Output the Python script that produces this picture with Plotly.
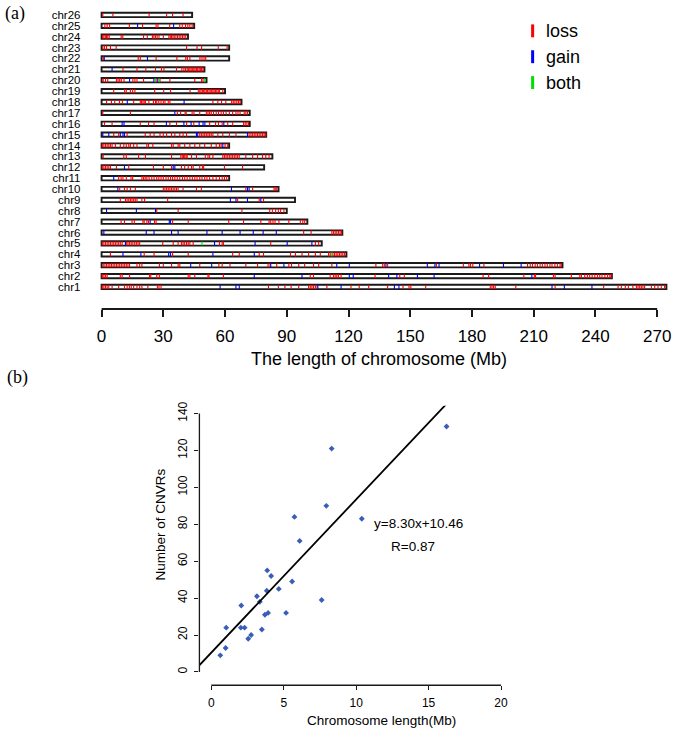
import plotly.graph_objects as go

W, H = 675, 729

# ---------------- Panel (a) data ----------------
CHROMS = [f"chr{i}" for i in range(1, 27)]
LENGTHS_MB = [274.5, 248.0, 224.0, 119.0, 107.0, 117.0, 100.0, 90.0, 94.0, 86.0,
              62.0, 79.0, 83.0, 62.0, 80.0, 72.0, 72.0, 68.0, 60.0, 51.0,
              50.0, 62.0, 62.0, 42.0, 45.0, 44.0]
X_TICKS_A = [0, 30, 60, 90, 120, 150, 180, 210, 240, 270]

LOSS = {
    "chr1": [0.3, 1.1, 1.9, 2.7, 3.5, 5.1, 8.3, 11.1, 12.4, 13.5, 14.4, 15.6, 17.2, 18.5, 19.6, 22.5,
             27.1, 27.9, 28.9, 81.1, 85.9, 89.1, 92.1, 95.8, 100.6, 101.4, 102.2, 103.0, 103.9, 104.7,
             109.5, 121.2, 125.2, 129.8, 139.0, 146.5, 149.4, 150.3, 157.5, 188.9, 189.7, 190.5, 191.3,
             201.3, 220.4, 244.0, 251.0, 252.6, 254.5, 256.0, 258.2, 259.9, 260.7, 261.5, 262.3, 263.1,
             263.9, 267.2, 268.8, 270.4, 272.0, 273.6],
    "chr2": [0.3, 1.1, 1.9, 2.7, 9.1, 10.0, 13.6, 23.3, 23.9, 26.8, 28.1, 42.1, 42.9, 45.3, 51.7, 52.2,
             59.2, 101.4, 103.0, 111.1, 112.7, 113.5, 114.3, 115.1, 116.4, 132.9, 144.9, 147.1, 185.4,
             188.1, 205.2, 210.3, 210.9, 219.6, 220.4, 228.3, 232.4, 233.2, 234.8, 236.1, 237.2, 238.4,
             239.7, 241.0, 242.1, 243.2, 244.6, 245.9, 247.0, 247.6],
    "chr3": [0.8, 1.6, 2.4, 3.2, 4.0, 4.8, 5.6, 6.4, 7.2, 8.0, 8.8, 9.6, 10.4, 11.2, 12.0, 12.8, 13.6,
             17.2, 18.5, 19.6, 28.1, 30.0, 34.0, 37.2, 38.0, 47.7, 57.0, 58.6, 62.4, 70.1, 75.8, 80.9,
             81.9, 85.1, 91.0, 92.3, 95.8, 98.7, 103.0, 105.5, 111.9, 133.3, 136.6, 137.4, 139.0, 162.7,
             175.8, 178.5, 179.3, 180.4, 185.8, 207.0, 208.3, 209.4, 210.7, 211.8, 213.1, 214.2, 215.5,
             216.6, 217.9, 218.9, 220.3, 221.5, 222.8, 223.4],
    "chr4": [4.3, 20.7, 25.5, 34.5, 42.1, 63.7, 66.9, 76.6, 78.7, 91.8, 94.2, 97.4, 100.6, 103.9, 106.3,
             110.3, 111.1, 112.4, 113.2, 114.0, 114.8, 115.6, 116.4, 117.2, 118.0],
    "chr5": [0.3, 1.1, 1.9, 2.7, 3.5, 4.3, 5.1, 5.9, 6.7, 7.5, 8.3, 9.1, 10.0, 12.0, 12.8, 13.6, 14.4,
             15.2, 16.1, 16.9, 17.7, 18.5, 29.7, 34.8, 37.2, 38.8, 39.6, 40.4, 41.3, 42.1, 42.9, 44.5,
             57.3, 58.6, 59.2, 82.2, 103.9, 105.5],
    "chr6": [98.2, 101.8, 111.9, 112.7, 113.5, 114.3, 115.1, 115.9, 116.6],
    "chr7": [9.5, 11.1, 14.8, 15.9, 20.1, 20.7, 22.0, 22.8, 25.7, 26.5, 34.5, 42.1, 61.8, 69.0, 77.4,
             81.4, 82.2, 83.3, 84.3, 86.2, 91.0, 96.6, 97.8, 98.7],
    "chr8": [26.8, 37.2, 68.2, 81.7, 83.0, 84.6, 85.9, 87.0, 88.6],
    "chr9": [9.1, 11.6, 12.4, 13.2, 14.0, 14.8, 15.6, 16.4, 17.2, 19.6, 20.9, 32.1, 66.1, 76.6, 78.7],
    "chr10": [8.8, 11.1, 12.4, 14.0, 16.4, 30.0, 30.8, 31.6, 32.4, 33.2, 34.0, 34.8, 35.6, 36.4, 37.2,
              39.6, 46.1, 48.5, 70.1, 73.4, 83.8, 84.4, 85.1],
    "chr11": [8.3, 9.5, 10.4, 12.0, 14.3, 15.1, 19.6, 20.4, 21.2, 22.0, 23.1, 24.4, 25.5, 26.8, 27.8,
              28.9, 30.0, 31.3, 32.4, 33.5, 34.5, 35.6, 36.8, 38.0, 39.3, 40.4, 41.6, 42.9, 44.1, 45.3,
              46.4, 47.7, 48.8, 50.1, 51.2, 52.5, 54.1, 55.7, 57.3, 58.6, 59.7, 60.8],
    "chr12": [0.3, 1.1, 1.9, 2.7, 3.5, 4.3, 7.2, 13.2, 25.2, 30.0, 34.0, 38.8, 40.4, 42.1, 43.7, 44.5,
              47.7, 49.0, 49.6, 59.7, 68.5],
    "chr13": [0.8, 10.8, 12.0, 18.0, 21.3, 34.0, 38.5, 39.2, 39.8, 40.4, 41.1, 41.6, 43.7, 46.1, 50.4,
              51.7, 52.5, 54.1, 58.9, 59.7, 60.5, 61.3, 62.1, 62.9, 63.7, 64.5, 65.3, 66.1, 66.9, 70.1,
              73.4, 75.8, 78.2, 79.8, 81.4],
    "chr14": [0.3, 1.1, 1.9, 2.7, 3.5, 4.3, 5.1, 6.7, 9.1, 10.8, 12.0, 13.2, 14.0, 15.6, 17.2, 22.0,
              22.8, 24.9, 34.0, 34.8, 37.2, 38.0, 40.4, 42.9, 45.3, 47.7, 50.1, 53.3, 55.7, 57.3, 58.1,
              60.0, 61.3],
    "chr15": [5.9, 8.3, 12.4, 21.2, 23.6, 25.5, 28.4, 30.0, 31.6, 34.0, 35.6, 38.0, 39.6, 41.3, 47.7,
              48.5, 49.3, 50.1, 50.9, 51.7, 52.5, 53.3, 54.1, 56.5, 58.9, 62.1, 65.3, 71.7, 72.6, 73.4,
              74.2, 75.0, 75.8, 76.6, 77.4, 78.2, 79.0, 79.8],
    "chr16": [1.4, 5.1, 18.8, 22.8, 25.5, 33.2, 36.4, 41.3, 44.8, 52.5, 55.4, 56.8, 58.6, 61.3, 63.7,
              69.0, 69.8, 70.6, 71.4],
    "chr17": [0.6, 14.0, 36.8, 38.4, 40.6, 41.1, 44.0, 44.9, 47.7, 50.9, 51.7, 52.5, 53.3, 54.4, 55.7,
              56.8, 58.1, 59.2, 60.5, 62.1, 63.7, 65.3, 66.3, 67.3, 69.3, 70.1, 70.9],
    "chr18": [2.4, 4.8, 6.4, 8.7, 10.1, 15.6, 18.8, 19.4, 20.1, 20.7, 21.3, 23.0, 25.2, 26.2, 26.8, 27.8,
              28.9, 30.0, 30.8, 32.4, 33.2, 54.1, 56.5, 58.3, 60.4, 63.2, 64.0, 64.8, 65.7, 66.5, 67.3],
    "chr19": [5.9, 11.2, 12.0, 14.0, 15.1, 16.2, 25.8, 30.2, 33.5, 43.0, 47.0, 47.7, 48.3, 49.0, 49.6,
              50.2, 50.9, 51.5, 52.2, 52.8, 53.5, 54.1, 54.7, 55.4, 56.0, 56.7, 57.3, 58.9],
    "chr20": [0.8, 1.9, 3.0, 7.2, 8.0, 8.8, 9.6, 10.9, 15.2, 16.2, 17.2, 20.4, 26.5, 28.4, 33.2, 45.3,
              48.6, 49.3],
    "chr21": [10.4, 17.2, 21.5, 26.2, 29.1, 30.3, 36.4, 39.0, 40.0, 40.8, 41.6, 42.2, 42.9, 43.5, 44.1,
              44.8, 45.4, 46.1, 46.7, 47.4, 48.0, 48.6, 49.3],
    "chr22": [0.8, 17.8, 18.8, 26.5, 36.6, 40.9, 41.7, 42.9, 47.8, 48.8, 49.8, 50.6],
    "chr23": [0.6, 1.4, 2.4, 4.3, 7.1, 41.3, 46.4, 48.6, 56.7, 61.0],
    "chr24": [0.5, 1.1, 1.8, 2.4, 3.0, 3.7, 9.5, 10.3, 20.4, 22.2, 24.7, 25.4, 26.2, 27.0, 27.9, 30.0,
              32.7, 33.4, 34.0, 34.7, 35.3, 36.1, 36.9, 37.7, 38.5, 39.3, 40.1, 40.9],
    "chr25": [1.6, 2.7, 3.9, 13.5, 19.9, 26.5, 27.4, 33.1, 38.0, 39.2, 40.8, 41.9, 42.9, 44.0],
    "chr26": [0.6, 5.5, 23.1, 31.6, 34.5, 39.6],
}
GAIN = {
    "chr1": [57.6, 65.3, 66.9, 105.1, 116.4, 142.3, 144.5, 218.9, 224.9, 238.3],
    "chr2": [74.2, 97.4, 120.4, 122.3, 139.5, 143.5, 153.5, 161.6, 209.1],
    "chr3": [43.3, 53.5, 82.2, 88.6, 114.3, 120.4, 138.2, 158.3, 162.0, 164.0, 183.7, 195.3, 203.9],
    "chr4": [10.4, 19.1, 32.6, 33.5, 54.1, 74.2],
    "chr5": [11.6, 54.9, 74.6, 90.2, 102.2],
    "chr6": [1.1, 21.7, 25.5, 34.0, 37.2, 51.2, 58.6, 67.3, 73.7, 78.5, 84.9],
    "chr7": [23.6, 32.9, 33.5],
    "chr8": [2.4, 16.9, 26.2],
    "chr9": [62.6, 65.3, 70.9, 77.4],
    "chr10": [7.9, 63.1, 70.9, 71.7],
    "chr11": [5.9],
    "chr12": [11.1, 34.8, 35.6],
    "chr14": [58.9],
    "chr15": [0.6, 3.5, 9.1, 10.4, 11.1, 46.1, 46.7, 70.9],
    "chr16": [10.0, 10.9, 31.5, 40.0, 43.5, 47.4, 49.3, 50.2, 59.4],
    "chr17": [35.6],
    "chr18": [12.5, 40.1],
    "chr20": [13.6, 25.4, 27.3],
    "chr21": [5.1],
    "chr22": [1.3, 22.3],
    "chr25": [17.5, 35.0],
}
BOTH = {
    "chr4": [111.9],
    "chr5": [48.8],
    "chr20": [26.0, 27.9, 50.1],
}
CNV_TYPES = ["loss", "gain", "both"]
CNV_COLORS = ["#ff0000", "#0000ff", "#00e000"]

# ---------------- Panel (b) data ----------------
CNVR_LENGTH_MB = [16.24, 8.31, 7.94, 5.74, 10.39, 6.10, 3.86, 4.13, 5.58, 4.66, 3.83, 3.15, 3.35,
                  2.07, 7.62, 3.92, 3.70, 5.16, 1.03, 2.04, 2.30, 3.49, 2.75, 2.55, 0.99, 0.62]
CNVR_COUNT = [133, 121, 90, 84, 83, 71, 55, 52, 49, 45, 44, 41, 38,
              36, 39, 32, 31, 32, 24, 24, 24, 23, 20, 18, 13, 9]
SLOPE, INTERCEPT, R_VALUE = 8.30, 10.46, 0.87
X_TICKS_B = [0, 5, 10, 15, 20]
Y_TICKS_B = [0, 20, 40, 60, 80, 100, 120, 140]

FONT = "Liberation Sans, Arial, sans-serif"
SERIF = "Liberation Serif, Times New Roman, serif"
INK = "#1a1a1a"


def px_x(p):
    return p / W


def px_y(p):
    return 1 - p / H


fig = go.Figure()

# chromosome bodies (white fill)
rows = list(range(len(CHROMS)))
BAR_W = 0.4
fig.add_trace(go.Bar(orientation="h", y=rows, x=LENGTHS_MB, base=0, width=BAR_W,
                     marker=dict(color="white", line=dict(width=0)),
                     showlegend=False, hoverinfo="skip", xaxis="x", yaxis="y"))

# CNV ticks
half = 0.19
for name, col, src in zip(CNV_TYPES, CNV_COLORS, [LOSS, GAIN, BOTH]):
    xs, ys = [], []
    for i, c in enumerate(CHROMS):
        for p in src.get(c, []):
            xs += [p, p, None]
            ys += [i - half, i + half, None]
    fig.add_trace(go.Scatter(x=xs, y=ys, mode="lines", name=name,
                             line=dict(color=col, width=1.1),
                             showlegend=False, hoverinfo="skip", xaxis="x", yaxis="y"))

# chromosome outlines on top
fig.add_trace(go.Bar(orientation="h", y=rows, x=LENGTHS_MB, base=0, width=BAR_W,
                     marker=dict(color="rgba(0,0,0,0)", line=dict(color=INK, width=1.9)),
                     showlegend=False, hoverinfo="skip", xaxis="x", yaxis="y"))

# scatter + regression
fig.add_trace(go.Scatter(x=CNVR_LENGTH_MB, y=CNVR_COUNT, mode="markers",
                         marker=dict(symbol="diamond", size=4.5, color="#3a5db8"),
                         showlegend=False, xaxis="x2", yaxis="y2"))
fit_x = [-2, 20]
fit_y = [SLOPE * v + INTERCEPT for v in fit_x]
fig.add_trace(go.Scatter(x=fit_x, y=fit_y, mode="lines", line=dict(color="black", width=1.8),
                         showlegend=False, hoverinfo="skip", xaxis="x2", yaxis="y2"))

# ---------------- layout ----------------
XA_POS = px_y(306.7)
XB_POS = px_y(685)
YB_X = px_x(199.3)

fig.update_layout(
    width=W, height=H, margin=dict(l=0, r=0, t=0, b=0),
    paper_bgcolor="white", plot_bgcolor="rgba(0,0,0,0)",
    barmode="overlay", showlegend=False,
    font=dict(family=FONT, color="black"),
    xaxis=dict(domain=[px_x(96.9), px_x(671.5)], range=[-2, 276], anchor="free", position=XA_POS,
               tickvals=X_TICKS_A, ticks="outside", ticklen=7, tickwidth=1.7, tickcolor=INK,
               showline=False, showgrid=False, zeroline=False, tickfont=dict(size=17),
               ticklabelstandoff=5),
    yaxis=dict(domain=[px_y(293.3), px_y(2.25)], range=[-0.8, 25.8], anchor="x",
               tickvals=rows, ticktext=CHROMS, ticks="", showgrid=False, zeroline=False,
               showline=False, tickfont=dict(size=11.5), ticklabelstandoff=16),
    xaxis2=dict(domain=[px_x(199.3), px_x(520)], range=[-0.82, 21.22], anchor="y2",
                tickvals=X_TICKS_B, ticks="outside", ticklen=4, tickwidth=1.2, tickcolor=INK,
                showline=False, showgrid=False, zeroline=False, tickfont=dict(size=12),
                ticklabelstandoff=2),
    yaxis2=dict(domain=[px_y(685), px_y(404)], range=[-7.2, 144.2], anchor="x2",
                tickvals=Y_TICKS_B, ticks="outside", ticklen=4, tickwidth=1.2, tickcolor=INK,
                showline=False, showgrid=False, zeroline=False, tickfont=dict(size=12),
                tickangle=-90, ticklabelstandoff=3),
)

shapes = [
    dict(type="line", xref="x", yref="paper", x0=X_TICKS_A[0], x1=X_TICKS_A[-1], y0=XA_POS, y1=XA_POS,
         line=dict(color=INK, width=1.8)),
    dict(type="line", xref="x2", yref="paper", x0=X_TICKS_B[0], x1=X_TICKS_B[-1], y0=XB_POS, y1=XB_POS,
         line=dict(color=INK, width=1.3)),
    dict(type="line", xref="paper", yref="y2", x0=YB_X, x1=YB_X, y0=Y_TICKS_B[0], y1=Y_TICKS_B[-1],
         line=dict(color=INK, width=1.3)),
]
annotations = []
# legend (manual, matches the original key layout)
for k, (name, col) in enumerate(zip(CNV_TYPES, CNV_COLORS)):
    cy = 27 + 26 * k
    shapes.append(dict(type="line", xref="paper", yref="paper", x0=px_x(534), x1=px_x(534),
                       y0=px_y(cy - 6.5), y1=px_y(cy + 6.5), line=dict(color=col, width=3)))
    annotations.append(dict(text=name, xref="paper", yref="paper", x=px_x(545), y=px_y(cy),
                            xanchor="left", yanchor="middle", showarrow=False,
                            font=dict(size=18, family=FONT)))

annotations += [
    dict(text="(a)", xref="paper", yref="paper", x=px_x(2), y=px_y(10), xanchor="left",
         yanchor="middle", showarrow=False, font=dict(size=18, family=SERIF)),
    dict(text="(b)", xref="paper", yref="paper", x=px_x(4), y=px_y(376), xanchor="left",
         yanchor="middle", showarrow=False, font=dict(size=18, family=SERIF)),
    dict(text="The length of chromosome (Mb)", xref="x", yref="paper", x=135, y=px_y(357),
         xanchor="center", yanchor="middle", showarrow=False, font=dict(size=18)),
    dict(text="Chromosome length(Mb)", xref="paper", yref="paper", x=px_x(381.7), y=px_y(720),
         xanchor="center", yanchor="middle", showarrow=False, font=dict(size=13.5)),
    dict(text="Number of CNVRs", xref="paper", yref="paper", x=px_x(160), y=px_y(523),
         xanchor="center", yanchor="middle", showarrow=False, textangle=-90, font=dict(size=13.5)),
    dict(text=f"y={SLOPE:.2f}x+{INTERCEPT:.2f}", xref="x2", yref="y2", x=14.27, y=80.4,
         xanchor="center", yanchor="middle", showarrow=False, font=dict(size=13.5)),
    dict(text=f"R={R_VALUE:.2f}", xref="x2", yref="y2", x=13.89, y=67.8,
         xanchor="center", yanchor="middle", showarrow=False, font=dict(size=13.5)),
]
fig.update_layout(shapes=shapes, annotations=annotations)

fig.write_html("out.html", config={"displayModeBar": False},
               post_script="document.body.style.margin='0px';document.body.style.padding='0px';")
